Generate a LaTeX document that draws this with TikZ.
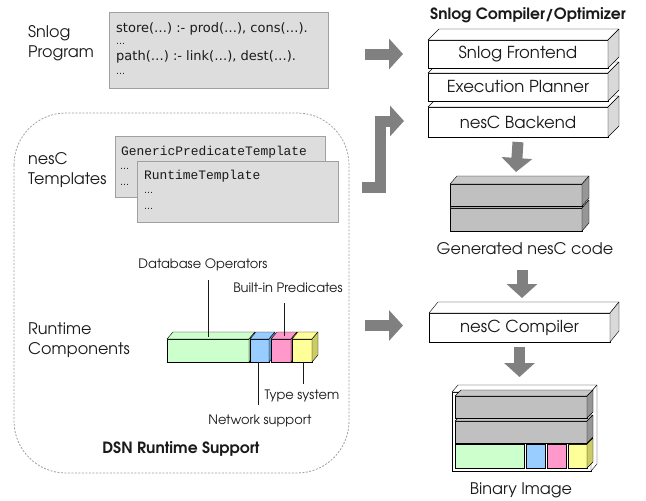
\documentclass[tikz,border=0pt]{standalone}
\usepackage{fontspec}
\setmainfont{TeX Gyre Adventor}
\newfontfamily\codefont{DejaVu Sans}
\newfontfamily\ttcode{Liberation Mono}
\usetikzlibrary{arrows.meta}
\definecolor{txt}{HTML}{1A1A1A}
\definecolor{arrowgray}{HTML}{808080}
\definecolor{codefill}{HTML}{DDDDDD}
\definecolor{codeline}{HTML}{A0A0A0}
\definecolor{grayfront}{HTML}{C0C0C0}
\definecolor{graytop}{HTML}{C8C8C8}
\definecolor{grayside}{HTML}{969696}
\definecolor{whiteside}{HTML}{D9D9D9}
\definecolor{cgreen}{HTML}{CCFFCC}
\definecolor{cblue}{HTML}{99CCFF}
\definecolor{cpink}{HTML}{FF99CC}
\definecolor{cyellow}{HTML}{FFFF99}
\definecolor{cgreenside}{HTML}{99CC99}
\definecolor{cblueside}{HTML}{6699CC}
\definecolor{cpinkside}{HTML}{CC6699}
\definecolor{cyellowside}{HTML}{CCCC66}
\newcommand\boxfaces[5]{%
  \filldraw[fill=#4, line join=round] (#1.north west) -- ([shift={(#2,-#3)}]#1.north west) -- ([shift={(#2,-#3)}]#1.north east) -- (#1.north east) -- cycle;
  \filldraw[fill=#5, line join=round] (#1.north east) -- ([shift={(#2,-#3)}]#1.north east) -- ([shift={(#2,-#3)}]#1.south east) -- (#1.south east) -- cycle;}
\begin{document}
\begin{tikzpicture}[x=1pt,y=-1pt,
  lbl/.style={font=\fontsize{16}{20}\selectfont, text=txt, inner sep=0pt, align=left},
  small/.style={font=\fontsize{13}{15}\selectfont, text=txt, inner sep=0pt},
  ttl/.style={font=\bfseries\fontsize{15.5}{18}\selectfont, text=txt, inner sep=0pt},
  codebox/.style={draw=codeline, fill=codefill, line width=0.8pt, inner sep=0pt, outer sep=0pt},
  codetxt/.style={font=\codefont\fontsize{13}{15}\selectfont, text=txt, inner sep=0pt, anchor=west},
  tmpltxt/.style={font=\ttcode\fontsize{12.9}{15}\selectfont, text=txt, inner sep=0pt, anchor=west},
  dots/.style={font=\codefont\fontsize{9}{10}\selectfont, text=txt, inner sep=0pt, anchor=west},
  cube/.style={draw=black, line width=0.8pt, inner sep=0pt, outer sep=0pt, text=txt, font=\fontsize{16.5}{19}\selectfont},
  blockarrow/.style={draw=arrowgray, line width=11pt, line join=miter, -{Triangle[width=30pt,length=14pt]}},
  leader/.style={draw=txt, line width=0.8pt}
]
\useasboundingbox (0,0) rectangle (646,501);

% ---------- left side ----------
\node[lbl, anchor=west] (slbl) at (28,43) {Snlog\\Program};
\node[codebox, minimum width=219pt, minimum height=76pt] (sp) at (218.5,50) {};
\node[codetxt] (c1) at (116,29) {store(…) :- prod(…), cons(…).};
\node[dots] (c2) at (116,44) {…};
\node[codetxt] (c3) at (116,57) {path(…) :- link(…), dest(…).};
\node[dots] (c4) at (116,74) {…};

\draw[codeline, dashed, dash pattern=on 2pt off 1.5pt, line width=0.8pt, rounded corners=52pt] (14,113) rectangle (349,473);

\node[lbl, anchor=west] (tlbl) at (28,170) {nesC\\Templates};
\node[codebox, minimum width=210pt, minimum height=61pt] (t1) at (220,166.5) {};
\node[tmpltxt] (t1a) at (121,152) {GenericPredicateTemplate};
\node[dots] (t1b) at (120,169) {…};
\node[dots] (t1c) at (120,185) {…};
\node[codebox, minimum width=201pt, minimum height=61pt] (t2) at (237.5,191.5) {};
\node[tmpltxt] (t2a) at (144,176) {RuntimeTemplate};
\node[dots] (t2b) at (144,193) {…};
\node[dots] (t2c) at (144,209) {…};

\node[lbl, anchor=west] (rlbl) at (28,340) {Runtime\\Components};

\node[cube, fill=cgreen, minimum width=82pt, minimum height=23pt] (r1) at (208,350.5) {};
\boxfaces{r1}{6}{7}{cgreen}{cgreenside}
\node[cube, fill=cblue, minimum width=19pt, minimum height=23pt] (r2) at (259.5,350.5) {};
\boxfaces{r2}{6}{7}{cblue}{cblueside}
\node[cube, fill=cpink, minimum width=20pt, minimum height=23pt] (r3) at (281,350.5) {};
\boxfaces{r3}{6}{7}{cpink}{cpinkside}
\node[cube, fill=cyellow, minimum width=20pt, minimum height=23pt] (r4) at (302,350.5) {};
\boxfaces{r4}{6}{7}{cyellow}{cyellowside}

\node[small] (dbo) at (203,265) {Database Operators};
\node[small] (bip) at (288,288) {Built-in Predicates};
\node[small] (tys) at (302,396) {Type system};
\node[small] (nws) at (260,421) {Network support};
\coordinate (dbo1) at (208,280); \coordinate (dbo2) at (208,337);
\coordinate (bip1) at (284,303); \coordinate (bip2) at (284,336);
\coordinate (nws1) at (258,362); \coordinate (nws2) at (258,405);
\coordinate (tys1) at (303,362); \coordinate (tys2) at (303,384);
\draw[leader] (dbo1) -- (dbo2);
\draw[leader] (bip1) -- (bip2);
\draw[leader] (nws1) -- (nws2);
\draw[leader] (tys1) -- (tys2);

\node[ttl] (dsn) at (181,449) {DSN Runtime Support};

% ---------- right side ----------
\node[ttl] (title) at (528,15) {Snlog Compiler/Optimizer};

\node[cube, fill=white, minimum width=180pt, minimum height=30pt] (nb) at (518,122) {nesC Backend};
\boxfaces{nb}{11}{11}{white}{whiteside}
\node[cube, fill=white, minimum width=180pt, minimum height=28pt] (ep) at (518,87) {Execution Planner};
\boxfaces{ep}{11}{11}{white}{whiteside}
\node[cube, fill=white, minimum width=180pt, minimum height=28pt] (fe) at (518,54) {Snlog Frontend};
\boxfaces{fe}{11}{11}{white}{whiteside}

\node[cube, fill=grayfront, minimum width=132pt, minimum height=23pt] (g2) at (516,219.5) {};
\boxfaces{g2}{7}{8}{graytop}{grayside}
\node[cube, fill=grayfront, minimum width=132pt, minimum height=22pt] (g1) at (516,195) {};
\boxfaces{g1}{7}{8}{graytop}{grayside}
\node[lbl] (gl) at (525,249) {Generated nesC code};

\node[cube, fill=white, minimum width=181pt, minimum height=29pt] (nc) at (519.5,327.5) {nesC Compiler};
\boxfaces{nc}{9}{11}{white}{whiteside}

% binary image
\node[cube, fill=white, minimum width=139pt, minimum height=79pt] (bi) at (521.5,431.5) {};
\boxfaces{bi}{6}{7}{white}{white}
\node[cube, fill=cgreen, minimum width=69pt, minimum height=24pt] (b3) at (489.5,456) {};
\node[cube, fill=cblue, minimum width=19pt, minimum height=24pt] (b4) at (535.5,456) {};
\node[cube, fill=cpink, minimum width=19pt, minimum height=24pt] (b5) at (556.5,456) {};
\node[cube, fill=cyellow, minimum width=19pt, minimum height=24pt] (b6) at (577.5,456) {};
\boxfaces{b6}{6}{6}{cyellow}{cyellowside}
\node[cube, fill=grayfront, minimum width=132pt, minimum height=22pt] (b2) at (521,432) {};
\boxfaces{b2}{6}{6}{graytop}{grayside}
\node[cube, fill=grayfront, minimum width=132pt, minimum height=22pt] (b1) at (521,407) {};
\boxfaces{b1}{6}{6}{graytop}{grayside}
\node[lbl] (bil) at (521,490) {Binary Image};

% ---------- block arrows ----------
\draw[blockarrow] ([xshift=-63pt]fe.west) -- ([xshift=-25pt]fe.west);
\coordinate (tmplout) at (362,187);
\draw[blockarrow] (tmplout) -- (380,187) -- (380,121) -- ([xshift=-24pt,yshift=1pt]nb.west);
\draw[blockarrow] ([yshift=-5pt]nb.south) -- ([yshift=12pt]g1.north);
\draw[blockarrow] ([xshift=6pt,yshift=-39pt]g2.south) -- ([xshift=2.5pt,yshift=15pt]nc.north);
\draw[blockarrow] ([xshift=-64pt,yshift=2pt]nc.west) -- ([xshift=-26pt,yshift=2pt]nc.west);
\draw[blockarrow] ([yshift=-5pt]nc.south) -- ++(0,30);
\end{tikzpicture}
\end{document}
